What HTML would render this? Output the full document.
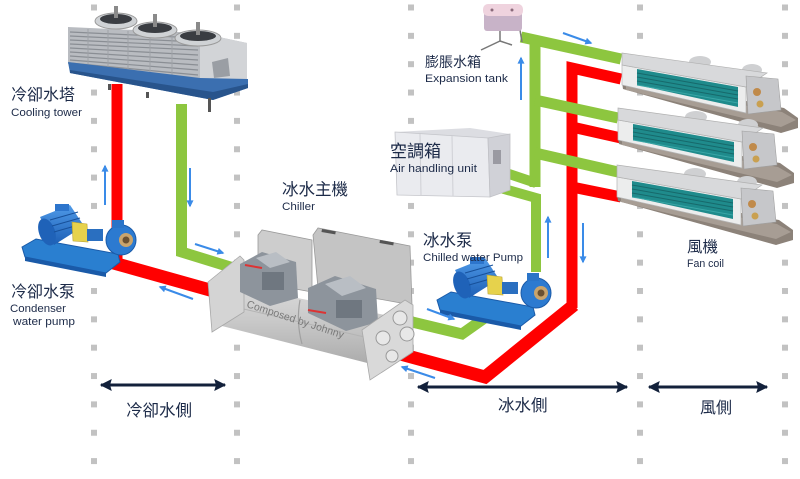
<!DOCTYPE html>
<html><head><meta charset="utf-8">
<style>
html,body{margin:0;padding:0;background:#fff;}
svg{display:block;}
text{font-family:"Liberation Sans","Noto Sans CJK TC",sans-serif;fill:#1c2a48;}
.en{font-size:11px;}
.zh{font-size:16px;}
</style></head><body>
<svg width="800" height="479" viewBox="0 0 800 479" xmlns="http://www.w3.org/2000/svg">
<defs>
  <pattern id="dots" x="0" y="4.5" width="800" height="28.35" patternUnits="userSpaceOnUse">
    <rect x="91" y="0" width="6" height="6" fill="#c2c2c2"/>
    <rect x="234" y="0" width="6" height="6" fill="#c2c2c2"/>
    <rect x="408" y="0" width="6" height="6" fill="#c2c2c2"/>
    <rect x="637" y="0" width="6" height="6" fill="#c2c2c2"/>
    <rect x="782" y="0" width="6" height="6" fill="#c2c2c2"/>
  </pattern>
  <marker id="ba" viewBox="0 0 10 10" refX="8" refY="5" markerWidth="8" markerHeight="7" markerUnits="userSpaceOnUse" orient="auto">
    <path d="M0,0 L10,5 L0,10 z" fill="#3a8be8"/>
  </marker>
  <marker id="na" viewBox="0 0 10 10" refX="9" refY="5" markerWidth="13" markerHeight="12" markerUnits="userSpaceOnUse" orient="auto-start-reverse">
    <path d="M0,0 L10,5 L0,10 L1.5,5 z" fill="#13213b"/>
  </marker>
  <linearGradient id="cyl" x1="0" y1="0" x2="0" y2="1">
    <stop offset="0" stop-color="#dcdcdc"/>
    <stop offset="0.45" stop-color="#c9c9c9"/>
    <stop offset="1" stop-color="#a9a9a9"/>
  </linearGradient>
  <linearGradient id="motor" x1="0" y1="0" x2="0" y2="1">
    <stop offset="0" stop-color="#4f9ae8"/>
    <stop offset="1" stop-color="#1d5fb5"/>
  </linearGradient>
  <g id="pump">
    <polygon points="22,247 36,239 118,254 120,262 106,273 25,257" fill="#2a7fd0" stroke="#1a5aa8" stroke-width="1"/>
    <polygon points="25,257 106,273 106,277 25,261" fill="#1a5aa8"/>
    <polygon points="40,217 70,205 84,226 54,245" fill="url(#motor)"/>
    <ellipse cx="47" cy="232" rx="8" ry="14" fill="#1f62b8" transform="rotate(-20 47 232)"/>
    <rect x="55" y="204" width="14" height="7" fill="#2d75cc"/>
    <line x1="50" y1="220" x2="78" y2="212" stroke="#17509a" stroke-width="1"/>
    <line x1="52" y1="226" x2="80" y2="218" stroke="#17509a" stroke-width="1"/>
    <line x1="54" y1="232" x2="82" y2="224" stroke="#17509a" stroke-width="1"/>
    <polygon points="72,222 87,224 88,242 73,241" fill="#e6d24c" stroke="#b8a030" stroke-width="0.6"/>
    <rect x="87" y="229" width="16" height="12" fill="#2a6fc0"/>
    <circle cx="121" cy="240" r="15" fill="#2c7ad0" stroke="#1a5aa8" stroke-width="1"/>
    <circle cx="126" cy="240" r="7" fill="#c9a46c"/>
    <circle cx="126" cy="240" r="3.5" fill="#6a5030"/>
    <rect x="112" y="220" width="12" height="8" fill="#2a74c8"/>
  </g>
  <g id="fc">
    <polygon points="622,82 628,79 784,108 798,118 798,128 781,133 623,89" fill="#8c8279"/>
    <polygon points="626,84 782,112 796,120 781,127 626,90" fill="#a79d94"/>
    <polygon points="622,65 746,87 746,113 622,85" fill="#eceded" stroke="#b4b4b4" stroke-width="0.7"/>
    <polygon points="637,69 738,87 738,107 637,85" fill="#1f8b8c"/>
    <line x1="637" y1="73" x2="738" y2="91" stroke="#17696b" stroke-width="1"/>
    <line x1="637" y1="77" x2="738" y2="95" stroke="#17696b" stroke-width="1"/>
    <line x1="637" y1="81" x2="738" y2="99" stroke="#17696b" stroke-width="1"/>
    <line x1="637" y1="85" x2="738" y2="103" stroke="#3aa6a6" stroke-width="1"/>
    <ellipse cx="700" cy="62" rx="11" ry="6" fill="#cfd0d2"/>
    <ellipse cx="752" cy="70" rx="10" ry="6" fill="#cfd0d2"/>
    <polygon points="622,53 767,73 746,87 622,65" fill="#d8d9db" stroke="#b0b0b0" stroke-width="0.7"/>
    <polygon points="746,76 778,79 781,110 748,114" fill="#c6c7ca" stroke="#a0a0a0" stroke-width="0.6"/>
    <circle cx="757" cy="92" r="4" fill="#c08a4a"/>
    <circle cx="760" cy="104" r="3.5" fill="#c9a050"/>
  </g>
</defs>

<rect x="0" y="0" width="800" height="479" fill="#fff"/>
<rect x="0" y="0" width="800" height="479" fill="url(#dots)"/>

<!-- condenser pipes -->
<polyline points="117,84 117,262" fill="none" stroke="#ff0000" stroke-width="11"/>
<polyline points="110,262 217,292" fill="none" stroke="#ff0000" stroke-width="13"/>
<polyline points="181.5,104 181.5,252 240,270" fill="none" stroke="#8dc63f" stroke-width="11" stroke-linejoin="miter"/>

<!-- chilled pipes -->
<polyline points="408,321 462,334 503,305" fill="none" stroke="#8dc63f" stroke-width="11" stroke-linejoin="miter"/>
<polyline points="393,352 485,377 574,305" fill="none" stroke="#ff0000" stroke-width="13" stroke-linejoin="miter"/>
<polyline points="572,308 572,68 621,79" fill="none" stroke="#ff0000" stroke-width="11" stroke-linejoin="miter"/>
<line x1="572" y1="127" x2="621" y2="138" stroke="#ff0000" stroke-width="11"/>
<line x1="572" y1="187" x2="621" y2="197" stroke="#ff0000" stroke-width="11"/>
<line x1="521" y1="37" x2="621" y2="59" stroke="#8dc63f" stroke-width="11"/>
<line x1="535" y1="36" x2="535" y2="187" stroke="#8dc63f" stroke-width="11"/>
<line x1="535" y1="100" x2="618" y2="118" stroke="#8dc63f" stroke-width="11"/>
<line x1="535" y1="153" x2="618" y2="172" stroke="#8dc63f" stroke-width="11"/>
<line x1="497" y1="170" x2="536" y2="183" stroke="#8dc63f" stroke-width="10"/>
<polyline points="497,187 536,198 536,272" fill="none" stroke="#8dc63f" stroke-width="10" stroke-linejoin="miter"/>

<!-- cooling tower -->
<g>
  <polygon points="68,27 200,33 247,43 247,82 200,80 68,64" fill="#b9bcc1"/>
  <polygon points="200,33 247,43 247,82 200,80" fill="#d2d4d7"/>
  <g stroke="#8a8e94" stroke-width="1.2">
    <line x1="70" y1="32" x2="198" y2="38"/>
    <line x1="70" y1="36" x2="198" y2="42"/>
    <line x1="70" y1="40" x2="198" y2="46"/>
    <line x1="70" y1="44" x2="198" y2="50"/>
    <line x1="70" y1="48" x2="198" y2="55"/>
    <line x1="70" y1="52" x2="198" y2="60"/>
    <line x1="70" y1="56" x2="198" y2="65"/>
    <line x1="70" y1="60" x2="198" y2="70"/>
    <line x1="70" y1="63" x2="198" y2="75"/>
  </g>
  <g stroke="#9ea2a7" stroke-width="1">
    <line x1="88" y1="29" x2="88" y2="66"/>
    <line x1="108" y1="30" x2="108" y2="69"/>
    <line x1="128" y1="31" x2="128" y2="71"/>
    <line x1="150" y1="31" x2="150" y2="74"/>
    <line x1="172" y1="32" x2="172" y2="77"/>
  </g>
  <polygon points="212,62 228,58 230,76 214,78" fill="#9a9ea4"/>
  <polygon points="68,62 200,78 248,79 248,88 213,100 70,73" fill="#3b6fb0"/>
  <polygon points="70,70 213,92 248,84 248,88 213,100 70,73" fill="#28548c"/>
  <rect x="108" y="84" width="3" height="6" fill="#555"/>
  <rect x="146" y="92" width="3" height="6" fill="#555"/>
  <rect x="208" y="98" width="3" height="14" fill="#555"/>
  <ellipse cx="116" cy="21" rx="21" ry="8" fill="#cfd2d5" stroke="#9a9a9a"/>
  <ellipse cx="116" cy="19" rx="16" ry="5" fill="#3a3d42"/>
  <rect x="114" y="6" width="4" height="12" fill="#8a8a8a"/>
  <ellipse cx="155" cy="30" rx="22" ry="8" fill="#cfd2d5" stroke="#9a9a9a"/>
  <ellipse cx="155" cy="28" rx="17" ry="5" fill="#3a3d42"/>
  <rect x="153" y="14" width="4" height="13" fill="#8a8a8a"/>
  <ellipse cx="198" cy="38" rx="23" ry="8" fill="#cfd2d5" stroke="#9a9a9a"/>
  <ellipse cx="198" cy="36" rx="18" ry="5" fill="#3a3d42"/>
  <rect x="196" y="22" width="4" height="13" fill="#8a8a8a"/>
</g>

<!-- condenser pump -->
<use href="#pump"/>
<!-- chilled pump -->
<use href="#pump" transform="translate(415,53)"/>

<!-- chiller -->
<g>
  <polygon points="258,235 262,230 312,240 312,292 258,282" fill="#cdcdcd" stroke="#9a9a9a" stroke-width="0.8"/>
  <polygon points="313,235 318,228 410,246 412,305 318,288" fill="#c4c4c4" stroke="#9a9a9a" stroke-width="0.8"/>
  <rect x="322" y="229" width="14" height="3" fill="#555" transform="rotate(10 322 229)"/>
  <rect x="380" y="240" width="14" height="3" fill="#555" transform="rotate(10 380 240)"/>
  <polygon points="215,282 385,315 387,368 218,325" fill="url(#cyl)"/>
  <path d="M300,300 Q296,322 302,344" fill="none" stroke="#a0a0a0" stroke-width="1.2"/>
  <line x1="218" y1="303" x2="386" y2="342" stroke="#b4b4b4" stroke-width="1"/>
  <polygon points="208,282 240,256 244,260 244,312 212,332" fill="#d4d4d4" stroke="#a8a8a8" stroke-width="0.8"/>
  <polygon points="240,264 262,252 296,262 298,298 270,306 240,292" fill="#8d949c"/>
  <polygon points="256,258 276,252 290,262 270,268" fill="#b9bec4"/>
  <rect x="262" y="272" width="22" height="18" fill="#6f7780"/>
  <polygon points="308,288 335,276 376,289 378,322 346,331 308,313" fill="#8d949c"/>
  <polygon points="325,284 350,276 366,288 342,296" fill="#b9bec4"/>
  <rect x="336" y="300" width="26" height="18" fill="#6f7780"/>
  <line x1="245" y1="265" x2="262" y2="268" stroke="#d33" stroke-width="2"/>
  <line x1="308" y1="310" x2="326" y2="313" stroke="#d33" stroke-width="2"/>
  <polygon points="362,330 405,300 413,305 413,352 370,380" fill="#d9d9d9" stroke="#a8a8a8" stroke-width="0.8"/>
  <circle cx="400" cy="318" r="7" fill="#e8e8e8" stroke="#999"/>
  <circle cx="407" cy="334" r="7" fill="#e8e8e8" stroke="#999"/>
  <circle cx="383" cy="338" r="7" fill="#e8e8e8" stroke="#999"/>
  <circle cx="392" cy="356" r="6" fill="#e8e8e8" stroke="#999"/>
  <text x="246" y="307" font-size="10.5" style="fill:#7a7a7a" transform="rotate(18 246 307)">Composed by Johnny</text>
</g>

<!-- expansion tank -->
<g>
  <line x1="500" y1="30" x2="500" y2="41" stroke="#777" stroke-width="1.5"/>
  <line x1="500" y1="41" x2="481" y2="50" stroke="#777" stroke-width="1.5"/>
  <line x1="500" y1="41" x2="512" y2="45" stroke="#777" stroke-width="1.5"/>
  <line x1="520" y1="30" x2="522" y2="42" stroke="#777" stroke-width="1.5"/>
  <rect x="484" y="12" width="38" height="19" rx="3" fill="#c8b3c8"/>
  <rect x="483" y="4" width="40" height="12" rx="5" fill="#efd3de"/>
  <circle cx="492" cy="10" r="1.5" fill="#8a6a7a"/>
  <circle cx="512" cy="10" r="1.5" fill="#8a6a7a"/>
</g>

<!-- AHU -->
<g>
  <polygon points="395,132 470,128 510,134 488,138" fill="#dcdde2"/>
  <polygon points="395,132 488,138 490,197 397,195" fill="#eaebef" stroke="#c4c5ca" stroke-width="0.8"/>
  <polygon points="488,138 510,134 510,190 490,197" fill="#d0d1d7" stroke="#c0c1c6" stroke-width="0.8"/>
  <line x1="420" y1="134" x2="421" y2="195" stroke="#cfd0d5"/>
  <line x1="452" y1="136" x2="453" y2="196" stroke="#cfd0d5"/>
  <rect x="493" y="150" width="8" height="14" fill="#9a9aa2"/>
</g>

<!-- fan coils -->
<use href="#fc"/>
<use href="#fc" transform="translate(-4,55)"/>
<use href="#fc" transform="translate(-5,112)"/>

<!-- blue flow arrows -->
<g stroke="#3a8be8" stroke-width="2" fill="none" marker-end="url(#ba)">
  <line x1="105" y1="205" x2="105" y2="166"/>
  <line x1="190" y1="168" x2="190" y2="206"/>
  <line x1="195" y1="244" x2="223" y2="253"/>
  <line x1="193" y1="299" x2="160" y2="287"/>
  <line x1="427" y1="309" x2="454" y2="319"/>
  <line x1="435" y1="378" x2="402" y2="367"/>
  <line x1="548" y1="258" x2="548" y2="217"/>
  <line x1="583" y1="223" x2="583" y2="262"/>
  <line x1="521" y1="100" x2="521" y2="58"/>
  <line x1="563" y1="33" x2="591" y2="43"/>
</g>

<!-- navy double arrows -->
<g stroke="#13213b" stroke-width="3" marker-start="url(#na)" marker-end="url(#na)">
  <line x1="101" y1="385" x2="225" y2="385"/>
  <line x1="418" y1="387" x2="627" y2="387"/>
  <line x1="649" y1="387" x2="767" y2="387"/>
</g>

<!-- labels -->
<text class="zh" x="11" y="100">冷卻水塔</text>
<text class="en" x="11" y="116" textLength="71" lengthAdjust="spacingAndGlyphs">Cooling tower</text>
<text class="zh" x="11" y="297">冷卻水泵</text>
<text class="en" x="10" y="312" textLength="56" lengthAdjust="spacingAndGlyphs">Condenser</text>
<text class="en" x="13" y="325" textLength="62" lengthAdjust="spacingAndGlyphs">water pump</text>
<text x="282" y="195" style="font-size:16.5px">冰水主機</text>
<text class="en" x="282" y="210" textLength="33" lengthAdjust="spacingAndGlyphs">Chiller</text>
<text x="425" y="67" style="font-size:14px">膨脹水箱</text>
<text class="en" x="425" y="82" textLength="83" lengthAdjust="spacingAndGlyphs">Expansion tank</text>
<text x="390" y="157" style="font-size:17px">空調箱</text>
<text class="en" x="390" y="172" textLength="87" lengthAdjust="spacingAndGlyphs">Air handling unit</text>
<text x="423" y="246" style="font-size:16.5px">冰水泵</text>
<text class="en" x="423" y="261" textLength="100" lengthAdjust="spacingAndGlyphs">Chilled water Pump</text>
<text x="687" y="252" style="font-size:15.5px">風機</text>
<text class="en" x="687" y="267" textLength="37" lengthAdjust="spacingAndGlyphs">Fan coil</text>
<text x="126" y="416" style="font-size:16.5px">冷卻水側</text>
<text x="498" y="411" style="font-size:16.5px">冰水側</text>
<text x="700" y="413" style="font-size:16px">風側</text>
</svg>
</body></html>
